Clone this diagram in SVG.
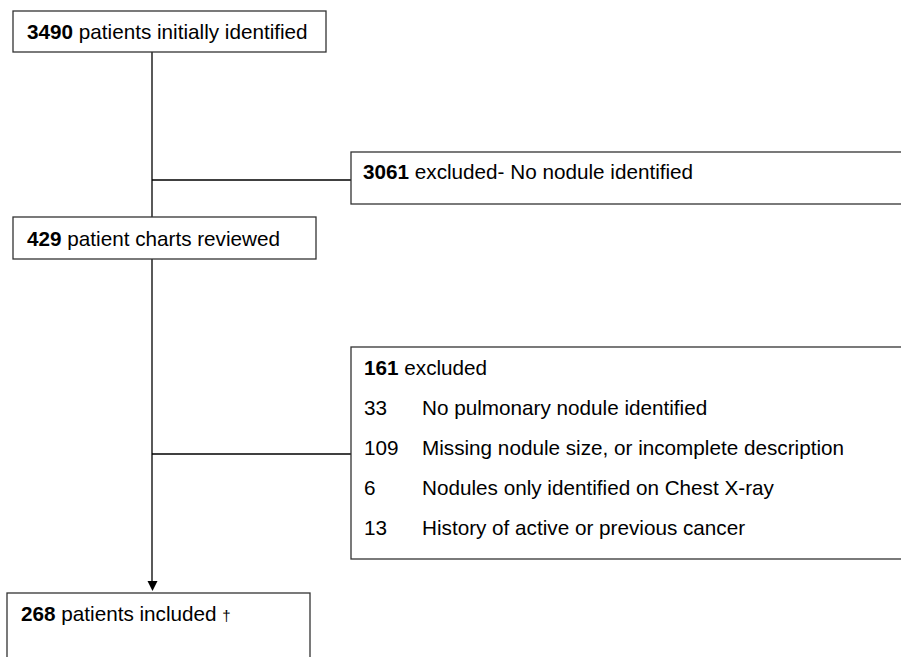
<svg xmlns="http://www.w3.org/2000/svg" width="901" height="657" viewBox="0 0 901 657">
<defs>
<style>
.box{fill:#fff;stroke:#333;stroke-width:1.3}
.ln{stroke:#000;stroke-width:1.3;fill:none}
text{font-family:"Liberation Sans",Arial,sans-serif;font-size:20.7px;fill:#000}
.b{font-weight:bold}
</style>
</defs>
<rect width="901" height="657" fill="#fff"/>
<g id="connectors">
<line class="ln" x1="152" y1="52" x2="152" y2="217"/>
<line class="ln" x1="152" y1="180" x2="351" y2="180"/>
<line class="ln" x1="152" y1="259" x2="152" y2="582"/>
<path d="M147.5,581 L157.5,581 L152.5,591 Z" fill="#000"/>
<line class="ln" x1="152" y1="454" x2="351" y2="454"/>
</g>
<g id="n1">
<rect class="box" x="13" y="11" width="313" height="41"/>
<text x="27" y="39"><tspan class="b">3490</tspan> patients initially identified</text>
</g>
<g id="n2">
<rect class="box" x="351" y="152" width="560" height="52"/>
<text x="363" y="179"><tspan class="b">3061</tspan> excluded- No nodule identified</text>
</g>
<g id="n3">
<rect class="box" x="13" y="217" width="303" height="42"/>
<text x="27" y="246"><tspan class="b">429</tspan> patient charts reviewed</text>
</g>
<g id="n4">
<rect class="box" x="351" y="347" width="560" height="212"/>
<text x="364" y="375"><tspan class="b">161</tspan> excluded</text>
<text x="364" y="415">33</text>
<text x="422" y="415">No pulmonary nodule identified</text>
<text x="364" y="455">109</text>
<text x="422" y="455">Missing nodule size, or incomplete description</text>
<text x="364" y="495">6</text>
<text x="422" y="495">Nodules only identified on Chest X-ray</text>
<text x="364" y="535">13</text>
<text x="422" y="535">History of active or previous cancer</text>
</g>
<g id="n5">
<rect class="box" x="7" y="593" width="303" height="80"/>
<text x="21" y="621"><tspan class="b">268</tspan> patients included <tspan font-size="15">†</tspan></text>
</g>
</svg>
